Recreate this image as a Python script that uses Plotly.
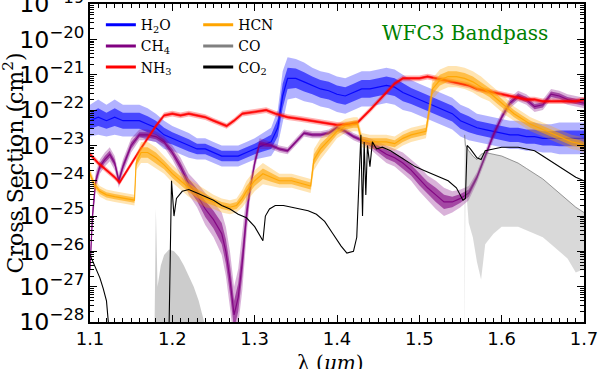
"""
Molecular cross sections across the WFC3 bandpass.
"""

import numpy as np
import plotly.graph_objects as go

# wavelengths in micron, values are log10 of cross section (cm^2),
# spread is the half-width of the noise band in decades
h2o_wl = [1.100, 1.110, 1.120, 1.130, 1.140, 1.150, 1.160, 1.170, 1.180, 1.190,
          1.200, 1.210, 1.220, 1.230, 1.240, 1.250, 1.260, 1.270, 1.280, 1.290,
          1.300, 1.310, 1.320, 1.328, 1.334, 1.340, 1.350, 1.360, 1.370, 1.380,
          1.390, 1.400, 1.410, 1.420, 1.430, 1.440, 1.450, 1.460, 1.470, 1.480,
          1.490, 1.500, 1.510, 1.520, 1.530, 1.540, 1.550, 1.560, 1.570, 1.580,
          1.590, 1.600, 1.610, 1.620, 1.630, 1.640, 1.650, 1.660, 1.670, 1.680,
          1.690, 1.700]
h2o_log = [-22.3, -22.2, -22.3, -22.2, -22.3, -22.3, -22.3, -22.4, -22.5, -22.7,
           -22.8, -22.9, -23.0, -23.1, -23.1, -23.2, -23.3, -23.3, -23.3, -23.2,
           -23.1, -23.0, -22.9, -22.5, -21.6, -21.1, -21.1, -21.2, -21.3, -21.4,
           -21.45, -21.55, -21.6, -21.5, -21.4, -21.4, -21.35, -21.3, -21.35, -21.5,
           -21.6, -21.7, -21.8, -21.9, -22.0, -22.1, -22.3, -22.4, -22.5, -22.55,
           -22.6, -22.65, -22.7, -22.7, -22.75, -22.75, -22.8, -22.8, -22.8, -22.8,
           -22.8, -22.8]
h2o_spread = [0.45, 0.5, 0.45, 0.5, 0.45, 0.45, 0.45, 0.45, 0.4, 0.4,
              0.35, 0.35, 0.35, 0.3, 0.3, 0.3, 0.3, 0.3, 0.3, 0.3,
              0.3, 0.35, 0.4, 0.5, 0.7, 0.6, 0.55, 0.55, 0.5, 0.5,
              0.5, 0.5, 0.5, 0.5, 0.5, 0.5, 0.5, 0.5, 0.5, 0.5,
              0.45, 0.45, 0.45, 0.45, 0.45, 0.45, 0.45, 0.45, 0.4, 0.4,
              0.4, 0.4, 0.4, 0.4, 0.4, 0.4, 0.4, 0.4, 0.45, 0.45,
              0.45, 0.45]

ch4_wl = [1.100, 1.103, 1.107, 1.112, 1.118, 1.124, 1.130, 1.135, 1.140, 1.150,
          1.160, 1.170, 1.180, 1.190, 1.200, 1.210, 1.220, 1.230, 1.240, 1.250,
          1.260, 1.265, 1.270, 1.275, 1.280, 1.285, 1.290, 1.294, 1.300, 1.306,
          1.320, 1.330, 1.340, 1.350, 1.360, 1.370, 1.380, 1.390, 1.400, 1.410,
          1.420, 1.430, 1.440, 1.450, 1.460, 1.470, 1.480, 1.490, 1.500, 1.510,
          1.520, 1.530, 1.540, 1.550, 1.560, 1.570, 1.580, 1.590, 1.600, 1.610,
          1.620, 1.630, 1.640, 1.650, 1.660, 1.670, 1.680, 1.690, 1.700]
ch4_log = [-26.5, -25.0, -24.0, -23.6, -23.4, -23.25, -23.5, -24.0, -23.6, -23.0,
           -22.7, -22.7, -22.75, -22.9, -23.2, -23.6, -24.1, -24.4, -24.8, -25.1,
           -25.5, -26.0, -26.8, -27.8, -27.3, -26.3, -25.0, -24.3, -23.5, -22.95,
           -23.0, -23.1, -23.15, -22.9, -22.65, -22.7, -22.7, -22.65, -22.5, -22.6,
           -22.75, -22.85, -22.95, -23.1, -23.25, -23.35, -23.5, -23.7, -23.95, -24.2,
           -24.4, -24.6, -24.6, -24.5, -24.35, -23.9, -23.3, -22.7, -22.2, -21.8,
           -21.6, -21.7, -21.9, -21.85, -21.55, -21.6, -21.7, -21.75, -21.8]
ch4_spread = [0.3, 0.3, 0.25, 0.2, 0.2, 0.2, 0.2, 0.2, 0.2, 0.2,
              0.15, 0.15, 0.15, 0.15, 0.2, 0.25, 0.3, 0.35, 0.45, 0.5,
              0.6, 0.7, 0.8, 0.8, 0.8, 0.8, 0.6, 0.3, 0.2, 0.15,
              0.1, 0.1, 0.1, 0.1, 0.1, 0.1, 0.1, 0.1, 0.1, 0.1,
              0.1, 0.1, 0.15, 0.2, 0.25, 0.25, 0.3, 0.3, 0.35, 0.35,
              0.4, 0.4, 0.3, 0.25, 0.2, 0.15, 0.15, 0.15, 0.15, 0.15,
              0.15, 0.15, 0.15, 0.15, 0.15, 0.15, 0.15, 0.15, 0.15]

nh3_wl = [1.100, 1.110, 1.120, 1.130, 1.136, 1.140, 1.150, 1.160, 1.170, 1.180,
          1.190, 1.200, 1.210, 1.220, 1.230, 1.240, 1.250, 1.260, 1.266, 1.275,
          1.285, 1.300, 1.314, 1.325, 1.340, 1.355, 1.370, 1.385, 1.400, 1.415,
          1.425, 1.440, 1.450, 1.460, 1.470, 1.480, 1.490, 1.500, 1.510, 1.520,
          1.530, 1.540, 1.550, 1.560, 1.570, 1.580, 1.590, 1.600, 1.610, 1.620,
          1.630, 1.640, 1.650, 1.660, 1.670, 1.680, 1.690, 1.700]
nh3_log = [-23.25, -23.5, -23.7, -23.9, -24.05, -23.9, -23.5, -23.15, -22.8, -22.45,
           -22.15, -22.1, -22.15, -22.1, -22.15, -22.2, -22.3, -22.4, -22.45, -22.3,
           -22.1, -22.05, -22.0, -22.1, -22.2, -22.25, -22.3, -22.35, -22.42, -22.4,
           -22.35, -22.0, -21.75, -21.5, -21.25, -21.1, -21.1, -21.1, -21.05, -21.1,
           -21.15, -21.2, -21.25, -21.3, -21.4, -21.45, -21.5, -21.55, -21.6, -21.65,
           -21.7, -21.7, -21.75, -21.75, -21.75, -21.75, -21.75, -21.7]
nh3_spread = [0.08] * len(nh3_wl)

hcn_wl = [1.100, 1.105, 1.112, 1.120, 1.130, 1.140, 1.150, 1.154, 1.156, 1.162,
          1.170, 1.180, 1.190, 1.200, 1.210, 1.220, 1.230, 1.240, 1.250, 1.260,
          1.270, 1.278, 1.285, 1.290, 1.300, 1.310, 1.320, 1.330, 1.345, 1.360,
          1.368, 1.372, 1.380, 1.390, 1.400, 1.410, 1.420, 1.425, 1.430, 1.440,
          1.450, 1.460, 1.470, 1.480, 1.490, 1.500, 1.508, 1.512, 1.516, 1.525,
          1.535, 1.545, 1.555, 1.565, 1.575, 1.585, 1.595, 1.605, 1.615, 1.625,
          1.635, 1.645, 1.655, 1.665, 1.675, 1.685, 1.695, 1.700]
hcn_log = [-23.8, -24.1, -24.3, -24.4, -24.45, -24.5, -24.55, -24.55, -23.5, -23.2,
           -23.2, -23.35, -23.55, -23.8, -24.0, -24.2, -24.35, -24.5, -24.6, -24.7,
           -24.75, -24.7, -24.5, -24.3, -24.0, -23.8, -23.9, -24.0, -24.0, -24.1,
           -24.15, -23.4, -23.1, -22.85, -22.6, -22.45, -22.4, -22.4, -22.85, -22.9,
           -22.9, -22.9, -22.95, -22.8, -22.7, -22.65, -22.6, -22.0, -21.4, -21.15,
           -21.05, -21.05, -21.1, -21.2, -21.35, -21.5, -21.7, -21.9, -22.1, -22.25,
           -22.4, -22.5, -22.6, -22.7, -22.8, -22.9, -22.95, -23.0]
hcn_spread = [0.15, 0.15, 0.15, 0.15, 0.15, 0.15, 0.15, 0.15, 0.2, 0.3,
              0.3, 0.3, 0.25, 0.25, 0.25, 0.25, 0.25, 0.25, 0.2, 0.2,
              0.2, 0.2, 0.25, 0.3, 0.3, 0.3, 0.25, 0.2, 0.2, 0.2,
              0.2, 0.3, 0.3, 0.25, 0.2, 0.2, 0.2, 0.2, 0.2, 0.2,
              0.2, 0.2, 0.2, 0.2, 0.2, 0.2, 0.2, 0.3, 0.3, 0.3,
              0.3, 0.3, 0.3, 0.3, 0.3, 0.25, 0.25, 0.25, 0.2, 0.2,
              0.2, 0.2, 0.2, 0.2, 0.2, 0.2, 0.2, 0.2]

# CO: two bands (lines drop below the axis floor in between)
co_a_wl = [1.178, 1.180, 1.182, 1.186, 1.190, 1.196, 1.202, 1.208, 1.214, 1.220,
           1.226, 1.232, 1.238, 1.242, 1.244]
co_a_hi = [-29.0, -24.8, -27.0, -26.4, -26.1, -25.95, -26.0, -26.15, -26.4, -26.7,
           -27.0, -27.4, -27.9, -28.3, -29.0]
co_a_lo = [-29.0] * len(co_a_wl)

co_b_wl = [1.555, 1.556, 1.560, 1.565, 1.570, 1.575, 1.580, 1.590, 1.600, 1.610,
           1.620, 1.630, 1.640, 1.650, 1.660, 1.670, 1.680, 1.690, 1.700]
co_b_hi = [-22.7, -23.0, -23.15, -23.3, -23.4, -23.25, -23.2, -23.25, -23.3, -23.4,
           -23.5, -23.65, -23.8, -23.95, -24.15, -24.35, -24.55, -24.75, -24.9]
co_b_lo = [-29.0, -24.0, -25.2, -25.6, -26.3, -26.8, -25.8, -25.5, -25.3, -25.3,
           -25.3, -25.4, -25.5, -25.6, -25.8, -26.0, -26.2, -26.6, -26.5]

co2_a_wl = [1.100, 1.104, 1.108, 1.112, 1.116, 1.120, 1.123]
co2_a_log = [-26.1, -26.3, -26.5, -26.75, -27.05, -27.4, -28.2]

co2_b_wl = [1.196, 1.199, 1.202, 1.205, 1.212, 1.220, 1.230, 1.240, 1.250, 1.260,
            1.270, 1.280, 1.290, 1.300, 1.305, 1.310, 1.313, 1.318, 1.325, 1.335,
            1.345, 1.355, 1.365, 1.375, 1.385, 1.395, 1.405, 1.412, 1.420, 1.424,
            1.427, 1.429, 1.431, 1.433, 1.435, 1.437, 1.440, 1.443, 1.448, 1.455,
            1.465, 1.475, 1.485, 1.495, 1.505, 1.515, 1.525, 1.535, 1.545, 1.553,
            1.556, 1.558, 1.562, 1.570, 1.575, 1.580, 1.590, 1.600, 1.610, 1.620,
            1.630, 1.640, 1.650, 1.660, 1.670, 1.680, 1.690, 1.700]
co2_b_log = [-28.2, -24.0, -25.0, -24.5, -24.3, -24.25, -24.35, -24.45, -24.55, -24.7,
             -24.8, -24.95, -25.05, -25.3, -25.5, -25.7, -25.0, -24.8, -24.7, -24.7,
             -24.75, -24.8, -24.85, -24.95, -25.15, -25.5, -25.85, -26.05, -26.0, -25.6,
             -24.0, -22.7, -25.0, -22.9, -24.4, -23.0, -23.6, -22.9, -23.1, -23.05,
             -23.15, -23.3, -23.45, -23.6, -23.7, -23.8, -23.9, -24.0, -24.2, -24.55,
             -24.5, -23.0, -23.1, -23.35, -23.4, -23.15, -23.1, -23.05, -23.05, -23.05,
             -23.1, -23.15, -23.3, -23.45, -23.6, -23.75, -23.9, -24.0]

x_ticks = [1.1, 1.2, 1.3, 1.4, 1.5, 1.6, 1.7]

SERIF = "DejaVu Serif"
SANS = "DejaVu Sans"


def rgba(rgb, alpha):
    """Colour string with transparency."""
    return f"rgba({rgb[0]},{rgb[1]},{rgb[2]},{alpha})"


def add_band(fig, wl, lo_log, hi_log, fill):
    """Filled region between two log envelopes."""
    fig.add_trace(go.Scatter(
        x=wl, y=np.power(10.0, lo_log), mode="lines",
        line={"width": 0}, hoverinfo="skip", showlegend=False))
    fig.add_trace(go.Scatter(
        x=wl, y=np.power(10.0, hi_log), mode="lines", fill="tonexty",
        fillcolor=fill, line={"width": 0}, hoverinfo="skip",
        showlegend=False))


def add_noisy(fig, wl, center, spread, rgb, width=1.2):
    """A noisy spectrum: pale outer band, denser inner band, centre line."""
    c = np.array(center)
    s = np.array(spread)
    add_band(fig, wl, c - s, c + s, rgba(rgb, 0.3))
    add_band(fig, wl, c - 0.5 * s, c + 0.5 * s, rgba(rgb, 0.6))
    fig.add_trace(go.Scatter(
        x=wl, y=np.power(10.0, c), mode="lines",
        line={"color": rgba(rgb, 0.9), "width": width}, showlegend=False))


def add_key(fig, name, color, legend):
    """Legend-only entry."""
    fig.add_trace(go.Scatter(
        x=[None], y=[None], mode="lines", name=name,
        line={"color": color, "width": 3}, legend=legend))


def main():
    fig = go.Figure()

    add_noisy(fig, h2o_wl, h2o_log, h2o_spread, (0, 0, 255))
    add_noisy(fig, ch4_wl, ch4_log, ch4_spread, (128, 0, 128))
    add_noisy(fig, nh3_wl, nh3_log, nh3_spread, (255, 0, 0), width=1.5)
    add_noisy(fig, hcn_wl, hcn_log, hcn_spread, (255, 165, 0))

    add_band(fig, co_a_wl, co_a_lo, co_a_hi, "rgba(128,128,128,0.4)")
    add_band(fig, co_b_wl, co_b_lo, co_b_hi, "rgba(128,128,128,0.3)")
    fig.add_trace(go.Scatter(
        x=co_b_wl, y=np.power(10.0, co_b_hi), mode="lines",
        line={"color": "rgba(90,90,90,0.6)", "width": 1}, showlegend=False))

    for wl, vals in ((co2_a_wl, co2_a_log), (co2_b_wl, co2_b_log)):
        fig.add_trace(go.Scatter(
            x=wl, y=np.power(10.0, vals), mode="lines",
            line={"color": "black", "width": 1.1}, showlegend=False))

    add_key(fig, "H<sub>2</sub>O", "blue", "legend")
    add_key(fig, "CH<sub>4</sub>", "purple", "legend")
    add_key(fig, "NH<sub>3</sub>", "red", "legend")
    add_key(fig, "HCN", "orange", "legend2")
    add_key(fig, "CO", "gray", "legend2")
    add_key(fig, "CO<sub>2</sub>", "black", "legend2")

    legend_style = {
        "bgcolor": "rgba(0,0,0,0)", "borderwidth": 0,
        "font": {"family": SERIF, "size": 14, "color": "black"},
        "yanchor": "top", "xanchor": "left", "y": 0.984,
        "itemwidth": 30, "traceorder": "normal",
    }
    axis_common = {
        "showline": True, "linecolor": "black", "linewidth": 1.5,
        "mirror": "allticks", "ticks": "inside", "ticklen": 7,
        "tickwidth": 1, "tickcolor": "black", "showgrid": False,
        "zeroline": False, "automargin": False,
        "ticklabeloverflow": "allow",
    }
    label_font = {"family": SERIF, "size": 20, "color": "black"}

    fig.update_layout(
        width=598, height=369,
        margin={"l": 90, "r": 14, "t": 4, "b": 47},
        paper_bgcolor="white", plot_bgcolor="white",
        legend={**legend_style, "x": 0.022},
        legend2={**legend_style, "x": 0.219},
        xaxis={
            **axis_common, "range": [1.1, 1.7], "tickvals": x_ticks,
            "ticktext": [f"{v:.1f}" for v in x_ticks],
            "tickfont": {"family": SANS, "size": 18, "color": "black"},
            "minor": {"ticks": "inside", "ticklen": 4, "dtick": 0.01,
                      "tick0": 1.1, "tickcolor": "black"},
        },
        yaxis={
            **axis_common, "type": "log", "range": [-28, -18.995],
            "dtick": 1, "exponentformat": "power", "showexponent": "all",
            "tickfont": {"family": SANS, "size": 19, "color": "black"},
            "minor": {"ticks": "inside", "ticklen": 4, "tickcolor": "black"},
        },
        annotations=[
            {"text": "WFC3 Bandpass", "xref": "paper", "yref": "paper",
             "x": 0.76, "y": 0.909, "xanchor": "center", "yanchor": "middle",
             "showarrow": False,
             "font": {"family": SERIF, "size": 20, "color": "green"}},
            {"text": "Cross Section (cm<sup>2</sup>)", "textangle": -90,
             "xref": "paper", "yref": "paper", "x": -0.155, "y": 0.5,
             "xanchor": "center", "yanchor": "middle", "showarrow": False,
             "font": {**label_font, "size": 22}},
            {"text": "λ (<i>μm</i>)", "xref": "paper", "yref": "paper",
             "x": 0.486, "y": -0.13, "xanchor": "center",
             "yanchor": "middle", "showarrow": False, "font": label_font},
        ],
    )

    fig.write_html("out.html", config={"displayModeBar": False},
                   post_script="document.body.style.margin = '0px';")


if __name__ == "__main__":
    main()
